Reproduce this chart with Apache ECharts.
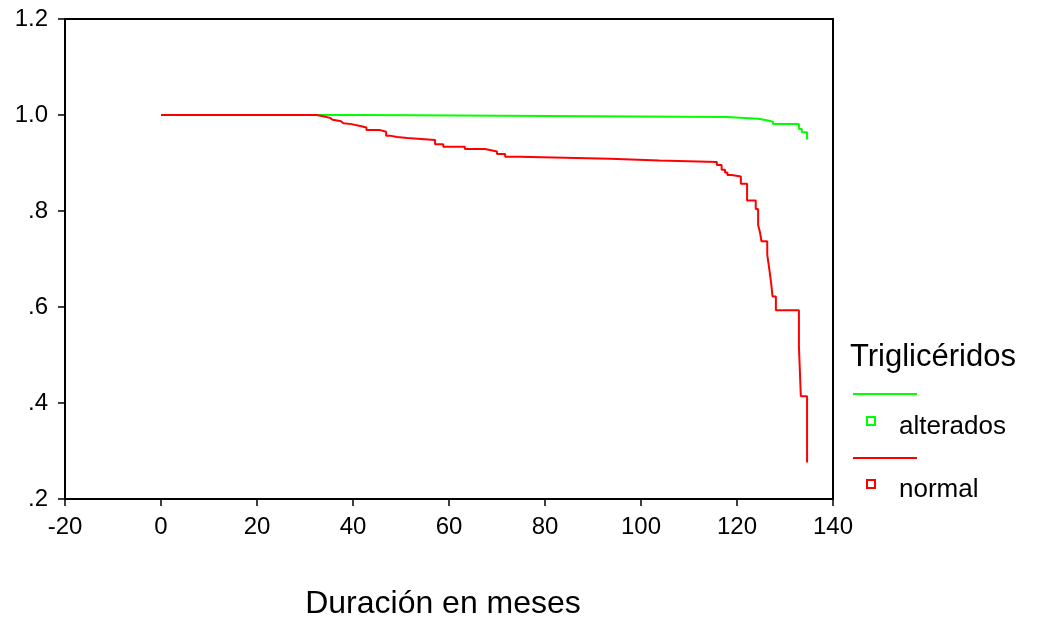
<!DOCTYPE html>
<html>
<head>
<meta charset="utf-8">
<script src="https://cdn.jsdelivr.net/npm/echarts@6/dist/echarts.min.js"></script>
<style>
html,body{margin:0;padding:0;background:#fff;}
#c{width:1041px;height:626px;}
</style>
</head>
<body>
<div id="c"></div>
<script>
// Kaplan-Meier survival steps: [month, survival after the drop]
var alteradosSteps = [
  [0, 1.0], [42.9, 0.996], [117.9, 0.992], [124.4, 0.989], [126.2, 0.986],
  [127.5, 0.981], [132.9, 0.971], [133.5, 0.964], [134.6, 0.949]
];
var normalSteps = [
  [0, 1.0], [32.4, 0.998], [33.5, 0.994], [35.2, 0.990], [35.8, 0.987],
  [37.5, 0.983], [38.0, 0.981], [39.7, 0.977], [41.5, 0.974], [42.8, 0.969],
  [45.5, 0.965], [46.9, 0.957], [47.7, 0.954], [49.2, 0.952], [51.3, 0.948],
  [57.1, 0.939], [58.8, 0.934], [63.3, 0.929], [67.5, 0.927], [68.5, 0.924],
  [70.0, 0.919], [71.7, 0.913], [74.8, 0.909], [93.5, 0.905], [103.8, 0.902],
  [115.8, 0.896], [116.8, 0.886], [117.5, 0.880], [118.0, 0.875], [118.9, 0.872],
  [120.8, 0.857], [122.1, 0.822], [123.9, 0.804], [124.4, 0.771], [124.8, 0.755],
  [125.1, 0.737], [126.3, 0.709], [126.7, 0.681], [127.1, 0.651], [127.4, 0.622],
  [128.1, 0.593], [132.9, 0.518], [133.3, 0.414], [134.6, 0.276]
];
var seriesNames = ['alterados', 'normal'];
var legendTitle = 'Triglicéridos';
var xAxisTitle = 'Duración en meses';

// Build step-function vertices (horizontal then vertical drop)
function toSteps(pts) {
  var out = [pts[0].slice()];
  for (var i = 1; i < pts.length; i++) {
    out.push([pts[i][0], pts[i - 1][1]]);
    out.push([pts[i][0], pts[i][1]]);
  }
  return out;
}

var FONT = '"Liberation Sans", Arial, sans-serif';
var chart = echarts.init(document.getElementById('c'), null, {renderer: 'canvas'});

function fmtY(v) {
  var s = v.toFixed(1);
  if (s.charAt(0) === '0') s = s.substring(1);
  return s;
}

var option = {
  animation: false,
  backgroundColor: '#fff',
  grid: {
    left: 65, top: 19, right: 208, bottom: 127,
    show: true, borderColor: '#000', borderWidth: 2, backgroundColor: 'transparent'
  },
  xAxis: {
    type: 'value', min: -20, max: 140, interval: 20,
    splitLine: {show: false},
    axisLine: {show: true, onZero: false, lineStyle: {color: '#000', width: 2}},
    axisTick: {show: true, length: 7, lineStyle: {color: '#000', width: 1.5}},
    axisLabel: {color: '#000', fontSize: 24, fontFamily: FONT, margin: 16},
    name: xAxisTitle, nameLocation: 'middle', nameGap: 89,
    nameTextStyle: {color: '#000', fontSize: 32, fontFamily: FONT, padding: [0, 12, 0, 0]}
  },
  yAxis: {
    type: 'value', min: 0.2, max: 1.2, interval: 0.2,
    splitLine: {show: false},
    axisLine: {show: true, onZero: false, lineStyle: {color: '#000', width: 2}},
    axisTick: {show: true, length: 7, lineStyle: {color: '#000', width: 1.5}},
    axisLabel: {color: '#000', fontSize: 24, fontFamily: FONT, margin: 17, formatter: fmtY}
  },
  series: [
    {
      name: seriesNames[0], type: 'line', data: toSteps(alteradosSteps),
      showSymbol: false, symbol: 'none',
      lineStyle: {color: '#00ff00', width: 2}, z: 2
    },
    {
      name: seriesNames[1], type: 'line', data: toSteps(normalSteps),
      showSymbol: false, symbol: 'none',
      lineStyle: {color: '#ff0000', width: 2}, z: 3
    }
  ],
  graphic: [
    {type: 'text', left: 850, top: 342, style: {text: legendTitle, fill: '#000', font: '31px ' + FONT}},
    {type: 'line', shape: {x1: 853, y1: 394, x2: 917, y2: 394}, style: {stroke: '#00ff00', lineWidth: 2}},
    {type: 'rect', shape: {x: 867, y: 417, width: 8, height: 8}, style: {fill: 'none', stroke: '#00ff00', lineWidth: 2}},
    {type: 'text', left: 899, top: 414, style: {text: seriesNames[0], fill: '#000', font: '26px ' + FONT}},
    {type: 'line', shape: {x1: 853, y1: 458, x2: 917, y2: 458}, style: {stroke: '#ff0000', lineWidth: 2}},
    {type: 'rect', shape: {x: 867, y: 480, width: 8, height: 8}, style: {fill: 'none', stroke: '#ff0000', lineWidth: 2}},
    {type: 'text', left: 899, top: 477, style: {text: seriesNames[1], fill: '#000', font: '26px ' + FONT}}
  ]
};
chart.setOption(option);
</script>
</body>
</html>
